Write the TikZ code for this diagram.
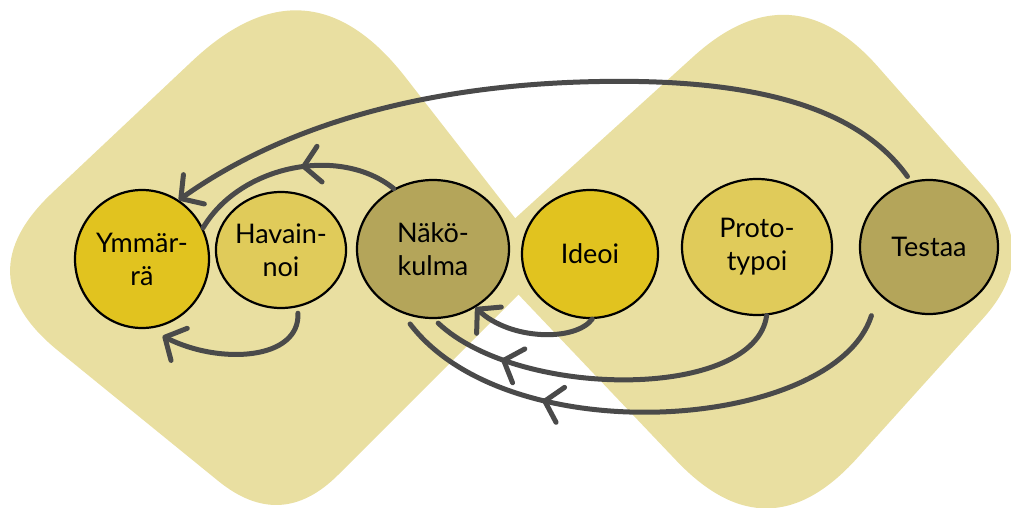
\documentclass[tikz,border=0pt]{standalone}
\usepackage{fontspec}
\setmainfont{Lato}
\usetikzlibrary{shapes.geometric,arrows.meta,decorations.markings,calc}
\definecolor{bg}{HTML}{E9DFA1}
\definecolor{cgold}{HTML}{E1C31F}
\definecolor{clight}{HTML}{E0CB5A}
\definecolor{colive}{HTML}{B4A55A}
\definecolor{arrowc}{HTML}{4A4A4A}
\begin{document}
\begin{tikzpicture}[x=1pt,y=-1pt,
  stage/.style={ellipse, draw=black, line width=2.2pt, inner sep=0pt, align=center,
    font=\fontsize{27}{33}\selectfont},
  flow/.style={color=arrowc, draw, line width=5pt, line cap=round},
  tipend/.style={-{Straight Barb[length=16pt,width=36pt,round]}},
  midtip/.style={postaction={decorate}, decoration={markings,
    mark=at position #1 with {\arrow{Straight Barb[length=16pt,width=36pt,round]}}}}
]
\useasboundingbox (0,0) rectangle (1011,508);

% background blobs (rounded diamonds)
\coordinate (lR) at (550,263);
\coordinate (lT) at (308,-48);
\coordinate (lL) at (-35,275);
\coordinate (lB) at (281,532);
\fill[bg] ($(lR)!40pt!(lB)$) .. controls ($(lR)!13pt!(lB)$) and ($(lR)!13pt!(lT)$) .. ($(lR)!40pt!(lT)$)
  -- ($(lT)!159pt!(lR)$) .. controls ($(lT)!53pt!(lR)$) and ($(lT)!53pt!(lL)$) .. ($(lT)!159pt!(lL)$)
  -- ($(lL)!120pt!(lT)$) .. controls ($(lL)!40pt!(lT)$) and ($(lL)!40pt!(lB)$) .. ($(lL)!120pt!(lB)$)
  -- ($(lB)!81pt!(lL)$) .. controls ($(lB)!27pt!(lL)$) and ($(lB)!27pt!(lR)$) .. ($(lB)!81pt!(lR)$) -- cycle;
\coordinate (rL) at (478,252);
\coordinate (rT) at (791,-32);
\coordinate (rR) at (1042,253);
\coordinate (rB) at (768,557);
\fill[bg] ($(rL)!30pt!(rB)$) .. controls ($(rL)!10pt!(rB)$) and ($(rL)!10pt!(rT)$) .. ($(rL)!30pt!(rT)$)
  -- ($(rT)!132pt!(rL)$) .. controls ($(rT)!44pt!(rL)$) and ($(rT)!44pt!(rR)$) .. ($(rT)!132pt!(rR)$)
  -- ($(rR)!88pt!(rT)$) .. controls ($(rR)!29pt!(rT)$) and ($(rR)!29pt!(rB)$) .. ($(rR)!88pt!(rB)$)
  -- ($(rB)!133pt!(rR)$) .. controls ($(rB)!44pt!(rR)$) and ($(rB)!44pt!(rL)$) .. ($(rB)!133pt!(rL)$) -- cycle;

% stages
\node[stage, fill=cgold,  minimum width=134pt, minimum height=138pt] (ym) at (142,259) {Ymmär-\\rä};
\node[stage, fill=clight, minimum width=128pt, minimum height=116pt] (ha) at (281,250) {Havain-\\noi};
\node[stage, fill=colive, minimum width=152pt, minimum height=138pt] (na) at (433,249) {Näkö-\\kulma};
\node[stage, fill=cgold,  minimum width=136pt, minimum height=128pt] (id) at (590,254) {Ideoi};
\node[stage, fill=clight, minimum width=150pt, minimum height=136pt] (pr) at (757,247) {Proto-\\typoi};
\node[stage, fill=colive, minimum width=138pt, minimum height=134pt] (te) at (929,247) {Testaa};

% connectors
\draw[flow, tipend] ($(te.center)!1.08!(te.107)$) .. controls (860,110) and (760,76) .. (580,82)
  .. controls (400,88) and (270,135) .. (ym.58);
\draw[flow, midtip=0.45] (na.123) .. controls (340,145) and (240,165) .. (ym.27);
\draw[flow, tipend] ($(ha.center)!1.1!(ha.-75)$) .. controls (300,360) and (220,365) .. ($(ym.center)!1.14!(ym.-75)$);
\draw[flow, tipend] (id.-88) .. controls (575,342) and (510,340) .. (na.-54);
\draw[flow, midtip=0.8] (pr.-82) .. controls (755,400) and (520,400) .. ($(na.center)!1.06!(na.-86)$);
\draw[flow, midtip=0.7] ($(te.center)!1.3!(te.-130)$) .. controls (835,430) and (510,455) .. ($(na.center)!1.11!(na.-107)$);
\end{tikzpicture}
\end{document}
